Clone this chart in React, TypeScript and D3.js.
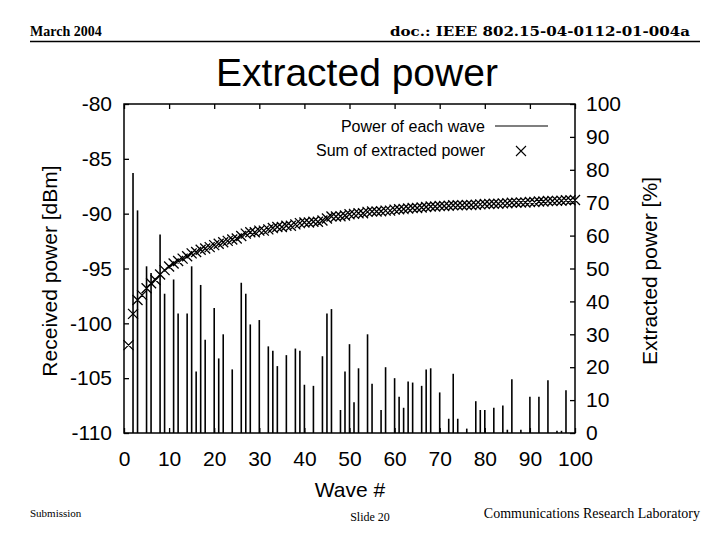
import React, { useRef, useEffect } from 'react';
import * as d3 from 'd3';

// waves with a visible bar (others are below -110 dBm)
const barWaves = [
    2, 3, 5, 6, 8, 9, 11, 12, 14, 15, 16, 17, 18, 20, 21, 22, 24, 26, 27, 28,
    30, 32, 33, 34, 36, 38, 39, 40, 42, 44, 45, 46, 48, 49, 50, 51, 52, 54, 55,
    57, 58, 60, 61, 62, 63, 64, 66, 67, 68, 70, 72, 73, 74, 76, 78, 79, 80, 82,
    84, 85, 86, 88, 90, 92, 94, 96, 97, 98,
];
const barPower = [
    -86.3, -89.7, -94.8, -95.4, -91.9, -97.3, -96.0, -99.1, -99.1, -94.8,
    -104.4, -96.5, -101.5, -98.6, -103.2, -101.0, -104.2, -96.3, -97.3, -100.1,
    -99.7, -102.1, -102.5, -103.9, -102.9, -102.3, -102.5, -105.6, -105.7,
    -103.0, -99.1, -98.7, -107.9, -104.4, -101.9, -107.2, -104.1, -101.0,
    -105.5, -107.9, -104.0, -105.0, -106.7, -107.7, -105.3, -105.4, -105.7,
    -104.2, -104.1, -106.3, -108.7, -104.6, -108.7, -109.6, -107.1, -107.9,
    -107.9, -107.7, -107.5, -109.7, -105.1, -109.7, -106.7, -106.7, -105.2,
    -109.8, -109.8, -106.1,
];

// sum of extracted power [%], waves 1..100
const sumPercent = [
    26.7, 36.2, 40.4, 41.9, 44.0, 45.5, 46.5, 48.2, 49.5, 50.6,
    51.5, 52.3, 53.0, 53.7, 54.6, 55.0, 55.7, 56.1, 56.5, 57.1,
    57.5, 58.0, 58.4, 58.8, 59.1, 59.9, 60.6, 61.0, 61.0, 61.5,
    61.5, 61.9, 62.3, 62.6, 62.6, 63.0, 63.0, 63.4, 63.8, 64.0,
    64.0, 64.2, 64.2, 64.6, 65.2, 65.8, 65.8, 65.9, 66.1, 66.5,
    66.6, 66.8, 66.8, 67.2, 67.3, 67.3, 67.4, 67.6, 67.6, 67.9,
    68.0, 68.1, 68.25, 68.4, 68.4, 68.55, 68.7, 68.85, 68.85, 69.0,
    69.0, 69.05, 69.2, 69.25, 69.25, 69.3, 69.3, 69.4, 69.5, 69.6,
    69.6, 69.7, 69.7, 69.8, 69.85, 70.0, 70.0, 70.05, 70.05, 70.2,
    70.2, 70.35, 70.35, 70.5, 70.5, 70.55, 70.6, 70.75, 70.75, 70.8,
];

const xTicks = [0, 10, 20, 30, 40, 50, 60, 70, 80, 90, 100];
const leftTicks = [-110, -105, -100, -95, -90, -85, -80];
const rightTicks = [0, 10, 20, 30, 40, 50, 60, 70, 80, 90, 100];

const SANS = '"Liberation Sans", Arial, sans-serif';
const SERIF = '"Liberation Serif", "Times New Roman", serif';

const crossPath = (cx: number, cy: number, r: number) =>
    `M${cx - r},${cy - r}L${cx + r},${cy + r}M${cx - r},${cy + r}L${cx + r},${cy - r}`;

const App: React.FC = () => {
    const svgRef = useRef<SVGSVGElement | null>(null);

    useEffect(() => {
        if (!svgRef.current) return;
        const svg = d3.select(svgRef.current);
        svg.selectAll('*').remove();

        const left = 124;
        const right = 575;
        const top = 104;
        const bottom = 433;

        const x = d3.scaleLinear().domain([0, 100]).range([left, right]);
        const yL = d3.scaleLinear().domain([-110, -80]).range([bottom, top]);
        const yR = d3.scaleLinear().domain([0, 100]).range([bottom, top]);

        // slide header
        svg.append('text')
            .attr('x', 30)
            .attr('y', 36)
            .attr('font-family', SERIF)
            .attr('font-weight', 'bold')
            .attr('font-size', 14)
            .text('March 2004');
        svg.append('text')
            .attr('x', 690)
            .attr('y', 36)
            .attr('text-anchor', 'end')
            .attr('font-family', '"DejaVu Serif", serif')
            .attr('font-weight', 'bold')
            .attr('font-size', 13)
            .attr('textLength', 300)
            .attr('lengthAdjust', 'spacingAndGlyphs')
            .text('doc.: IEEE 802.15-04-0112-01-004a');
        svg.append('line')
            .attr('x1', 30)
            .attr('x2', 700)
            .attr('y1', 41.5)
            .attr('y2', 41.5)
            .attr('stroke', '#000')
            .attr('stroke-width', 1.5);

        svg.append('text')
            .attr('x', 357)
            .attr('y', 86)
            .attr('text-anchor', 'middle')
            .attr('font-family', SANS)
            .attr('font-size', 39)
            .text('Extracted power');

        // footer
        svg.append('text')
            .attr('x', 30)
            .attr('y', 517)
            .attr('font-family', SERIF)
            .attr('font-size', 11)
            .text('Submission');
        svg.append('text')
            .attr('x', 370)
            .attr('y', 521)
            .attr('text-anchor', 'middle')
            .attr('font-family', SERIF)
            .attr('font-size', 12)
            .text('Slide 20');
        svg.append('text')
            .attr('x', 700)
            .attr('y', 518)
            .attr('text-anchor', 'end')
            .attr('font-family', SERIF)
            .attr('font-size', 14)
            .text('Communications Research Laboratory');

        // axes (ticks pointing inward)
        const styleAxis = (g: d3.Selection<SVGGElement, unknown, null, undefined>) => {
            g.select('.domain').remove();
            g.selectAll('.tick line').attr('stroke', '#000').attr('stroke-width', 1.3);
            g.selectAll('.tick text')
                .attr('fill', '#000')
                .attr('font-family', SANS)
                .attr('font-size', 21);
        };
        const plain = (d: d3.NumberValue) => String(d);

        svg.append('g')
            .attr('transform', `translate(${left},0)`)
            .call(d3.axisLeft(yL).tickValues(leftTicks).tickSize(-5).tickPadding(12).tickFormat(plain))
            .call(styleAxis);

        svg.append('g')
            .attr('transform', `translate(${right},0)`)
            .call(d3.axisRight(yR).tickValues(rightTicks).tickSize(-5).tickPadding(11).tickFormat(plain))
            .call(styleAxis);

        svg.append('g')
            .attr('transform', `translate(0,${bottom})`)
            .call(d3.axisBottom(x).tickValues(xTicks).tickSize(-5).tickPadding(18).tickFormat(plain))
            .call(styleAxis);

        svg.append('g')
            .attr('transform', `translate(0,${top})`)
            .call(d3.axisTop(x).tickValues(xTicks).tickSize(-5).tickFormat(() => ''))
            .call(styleAxis);

        // bars: power of each wave
        svg.append('g')
            .selectAll('line')
            .data(barWaves)
            .enter()
            .append('line')
            .attr('x1', (d) => x(d))
            .attr('x2', (d) => x(d))
            .attr('y1', yL(-110))
            .attr('y2', (_d, i) => yL(barPower[i]))
            .attr('stroke', '#000')
            .attr('stroke-width', 1.6);

        // crosses: sum of extracted power
        svg.append('path')
            .attr(
                'd',
                sumPercent.map((v, i) => crossPath(x(i + 1), yR(v), 5)).join(''),
            )
            .attr('fill', 'none')
            .attr('stroke', '#000')
            .attr('stroke-width', 1.3);

        // frame
        svg.append('rect')
            .attr('x', left)
            .attr('y', top)
            .attr('width', right - left)
            .attr('height', bottom - top)
            .attr('fill', 'none')
            .attr('stroke', '#000')
            .attr('stroke-width', 1.5);

        // legend
        svg.append('text')
            .attr('x', 485)
            .attr('y', 131.5)
            .attr('text-anchor', 'end')
            .attr('font-family', SANS)
            .attr('font-size', 16)
            .text('Power of each wave');
        svg.append('line')
            .attr('x1', 495)
            .attr('x2', 548)
            .attr('y1', 126)
            .attr('y2', 126)
            .attr('stroke', '#000')
            .attr('stroke-width', 1.2);
        svg.append('text')
            .attr('x', 485)
            .attr('y', 155.5)
            .attr('text-anchor', 'end')
            .attr('font-family', SANS)
            .attr('font-size', 16)
            .text('Sum of extracted power');
        svg.append('path')
            .attr('d', crossPath(521, 151, 5))
            .attr('stroke', '#000')
            .attr('stroke-width', 1.1);

        // axis titles
        svg.append('text')
            .attr('transform', 'translate(57,271) rotate(-90)')
            .attr('text-anchor', 'middle')
            .attr('font-family', SANS)
            .attr('font-size', 21)
            .text('Received power [dBm]');
        svg.append('text')
            .attr('transform', 'translate(657,271) rotate(-90)')
            .attr('text-anchor', 'middle')
            .attr('font-family', SANS)
            .attr('font-size', 21)
            .text('Extracted power [%]');
        svg.append('text')
            .attr('x', 350)
            .attr('y', 497)
            .attr('text-anchor', 'middle')
            .attr('font-family', SANS)
            .attr('font-size', 21)
            .text('Wave #');
    }, []);

    return (
        <div style={{ position: 'absolute', left: 0, top: 0, width: 720, height: 540, background: '#fff' }}>
            <svg ref={svgRef} width={720} height={540} style={{ display: 'block' }}></svg>
        </div>
    );
};

export default App;
